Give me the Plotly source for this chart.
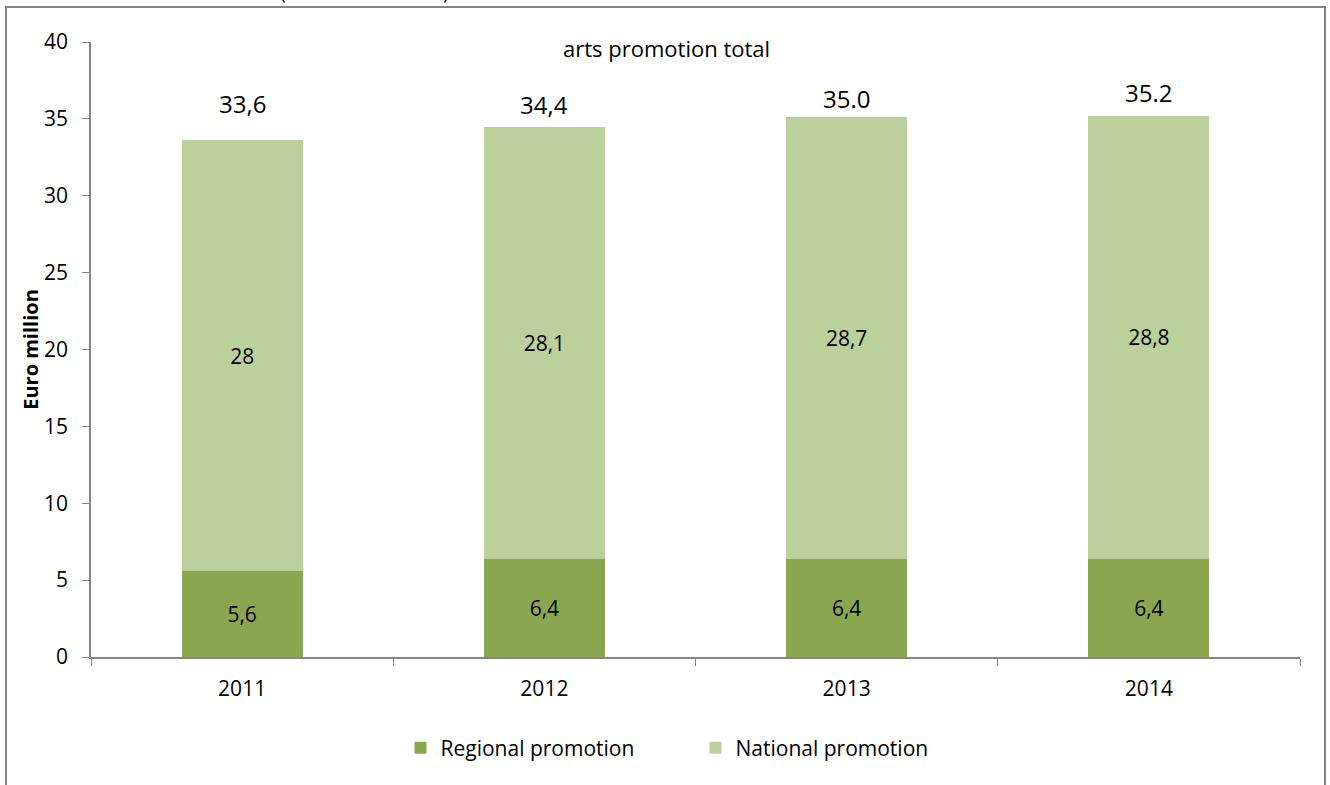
import plotly.graph_objects as go

# ── Data ──────────────────────────────────────────────
years = ["2011", "2012", "2013", "2014"]
regional = [5.6, 6.4, 6.4, 6.4]
national = [28.0, 28.1, 28.7, 28.8]
regional_text = ["5,6", "6,4", "6,4", "6,4"]
national_text = ["28", "28,1", "28,7", "28,8"]
total_text = ["33,6", "34,4", "35.0", "35.2"]

FONT = "Open Sans, Noto Sans, sans-serif"
GREY = "#868686"

fig = go.Figure()

fig.add_trace(go.Bar(
    x=years, y=regional, name="Regional promotion",
    marker=dict(color="#8aa64e", line=dict(width=0)),
    text=regional_text, textposition="inside", insidetextanchor="middle",
    textfont=dict(size=21, color="black"), width=0.4,
))
fig.add_trace(go.Bar(
    x=years, y=national, name="National promotion",
    marker=dict(color="#bbd09a", line=dict(width=0)),
    text=national_text, textposition="inside", insidetextanchor="middle",
    textfont=dict(size=21, color="black"), width=0.4,
))

# total labels above the stacks (category index as x)
shifts = [37, 22, 19, 23]
for i, (r, n, t, s) in enumerate(zip(regional, national, total_text, shifts)):
    fig.add_annotation(x=i, y=r + n, text=t, showarrow=False,
                       yshift=s, font=dict(size=24, color="black"))

fig.add_annotation(x=(666 - 91) / 1209, y=(657 - 48) / 615, xref="paper", yref="paper",
                   text="arts promotion total", showarrow=False, yanchor="middle",
                   font=dict(size=22, color="black"))

# clipped text remnants at the very top of the image
for ch, px in [("(", 278), (")", 441)]:
    fig.add_annotation(x=(px - 91) / 1209, y=(657 - 7) / 615, xref="paper", yref="paper",
                       text=ch, showarrow=False, yanchor="bottom",
                       font=dict(size=20, color="black"))

# chart border
fig.add_shape(type="rect", xref="paper", yref="paper",
              x0=(6 - 91) / 1209, x1=(1325 - 91) / 1209,
              y0=-0.3, y1=(657 - 7) / 615,
              line=dict(color=GREY, width=2), fillcolor="rgba(0,0,0,0)", layer="below")

fig.update_layout(
    barmode="stack",
    width=1330, height=785,
    margin=dict(l=91, r=30, t=42, b=128),
    paper_bgcolor="white", plot_bgcolor="white",
    font=dict(family=FONT, size=20, color="black"),
    showlegend=True,
    legend=dict(orientation="h", x=0.5, xanchor="center", y=(657 - 748) / 615,
                yanchor="middle", font=dict(size=21), traceorder="normal",
                entrywidthmode="pixels", entrywidth=250),
)
fig.update_yaxes(range=[0, 40], dtick=5, showgrid=False, zeroline=False,
                 showline=True, linecolor=GREY, linewidth=1.5,
                 ticks="outside", ticklen=7, tickcolor=GREY,
                 tickfont=dict(size=21), ticklabelstandoff=10,
                 title=dict(text="<b>Euro million</b>", font=dict(size=20), standoff=0))
fig.update_xaxes(type="category", range=[-0.5, 3.5], showgrid=False, showline=True,
                 linecolor=GREY, linewidth=1.5,
                 ticks="outside", ticklen=7, tickcolor=GREY, tickson="boundaries",
                 tickfont=dict(size=21), ticklabelstandoff=12)

fig.write_html("out.html", config={"displayModeBar": False},
               post_script="document.body.style.margin='0px';")
